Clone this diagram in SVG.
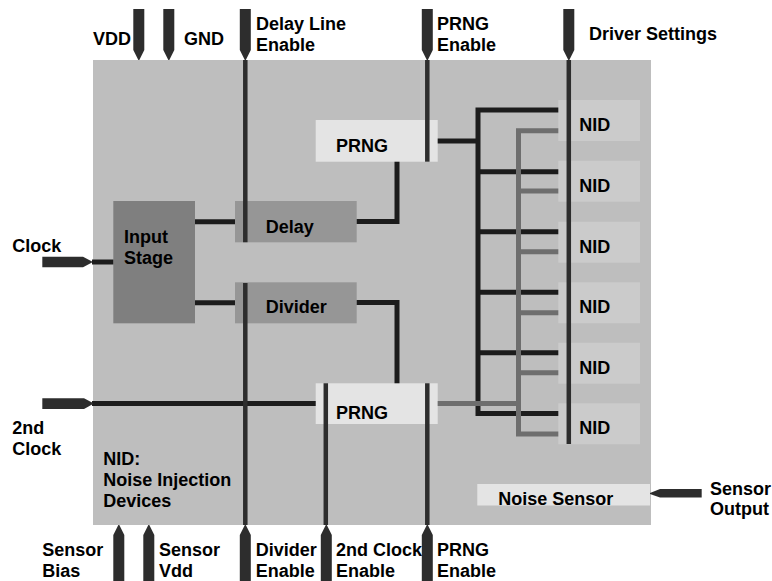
<svg xmlns="http://www.w3.org/2000/svg" width="772" height="581" viewBox="0 0 772 581">
<style>
text{font-family:"Liberation Sans",Arial,Helvetica,sans-serif;font-weight:bold;font-size:18px;fill:#000}
.chip{fill:#bebebe}
.input{fill:#7f7f7f}
.mid{fill:#969696}
.light{fill:#e4e4e4}
.nid{fill:#cbcbcb}
.pin{fill:#2d2d2d}
.blk{stroke:#1c1c1c;stroke-width:5;fill:none}
.gry{stroke:#6e6e6e;stroke-width:5;fill:none}
.en{stroke:#2d2d2d;stroke-width:4.5;fill:none}
</style>
<rect width="772" height="581" fill="#fff"/>
<g id="chip"><rect class="chip" x="93" y="60" width="558" height="465"/></g>
<g id="input-stage"><rect class="input" x="113.3" y="201" width="81.7" height="122.3"/><text x="124" y="243">Input</text><text x="124" y="263.5">Stage</text></g>
<g id="delay"><rect class="mid" x="235" y="201" width="121.7" height="41.3"/><text x="265.7" y="232.7">Delay</text></g>
<g id="divider"><rect class="mid" x="235" y="282.3" width="121.7" height="41"/><text x="265.7" y="312.7">Divider</text></g>
<g id="prng-top"><rect class="light" x="315.7" y="120" width="122" height="41.7"/><text x="336" y="151.7">PRNG</text></g>
<g id="prng-bottom"><rect class="light" x="315.7" y="383.3" width="122" height="40.7"/><text x="336" y="419.3">PRNG</text></g>
<g id="nid1"><rect class="nid" x="558.3" y="100" width="81.7" height="41"/><text x="579.3" y="131">NID</text></g>
<g id="nid2"><rect class="nid" x="558.3" y="160.7" width="81.7" height="41"/><text x="579.3" y="191.7">NID</text></g>
<g id="nid3"><rect class="nid" x="558.3" y="221.7" width="81.7" height="41"/><text x="579.3" y="252.7">NID</text></g>
<g id="nid4"><rect class="nid" x="558.3" y="282.3" width="81.7" height="41"/><text x="579.3" y="313.3">NID</text></g>
<g id="nid5"><rect class="nid" x="558.3" y="342.7" width="81.7" height="41"/><text x="579.3" y="373.7">NID</text></g>
<g id="nid6"><rect class="nid" x="558.3" y="403.3" width="81.7" height="41"/><text x="579.3" y="434.3">NID</text></g>
<g id="noise-sensor"><rect class="light" x="477.3" y="484" width="172.7" height="21.5"/><text x="498.3" y="505">Noise Sensor</text></g>
<g id="legend"><text x="103.3" y="465">NID:</text><text x="103.3" y="486">Noise Injection</text><text x="103.3" y="506.7">Devices</text></g>
<g id="connectors">
<path class="blk" d="M92 262H113.3"/>
<path class="blk" d="M92 403.5H315.7"/>
<path class="blk" d="M195 221.7H235"/>
<path class="blk" d="M195 302.7H235"/>
<path class="blk" d="M356.7 221.5H397V161.7"/>
<path class="blk" d="M356.7 302.5H397V383.3"/>
<path class="blk" d="M437.7 141H478"/>
<path class="blk" d="M478 107.5V416M478 110H558.3M478 171.7H558.3M478 231.7H558.3M478 292.3H558.3M478 352.7H558.3M478 413.5H558.3"/>
<path class="gry" d="M437.7 403.5H518.5"/>
<path class="gry" d="M558.3 130.7H518.5V434H558.3M518.5 191H558.3M518.5 251.7H558.3M518.5 312.7H558.3M518.5 372.7H558.3"/>
<path class="en" d="M245.3 60V242.3"/>
<path class="en" d="M245.3 283V525"/>
<path class="en" d="M427.3 60V161.7"/>
<path class="en" d="M325.8 383.3V525"/>
<path class="en" d="M427.3 383.3V525"/>
<path class="en" d="M568.8 60V444"/>
</g>
<g id="pin-vdd"><path class="pin" d="M133.3 9H144.3V50L139.3 60H138.3L133.3 50Z"/><text x="93" y="45">VDD</text></g>
<g id="pin-gnd"><path class="pin" d="M163.3 9H174.3V50L169.3 60H168.3L163.3 50Z"/><text x="184" y="45">GND</text></g>
<g id="pin-delay-enable"><path class="pin" d="M239.8 9H250.8V50L245.8 60H244.8L239.8 50Z"/><text x="256" y="29.5">Delay Line</text><text x="256" y="51">Enable</text></g>
<g id="pin-prng-enable-top"><path class="pin" d="M421.8 9H432.8V50L427.8 60H426.8L421.8 50Z"/><text x="437" y="29.5">PRNG</text><text x="437" y="51">Enable</text></g>
<g id="pin-driver"><path class="pin" d="M563.3 9H574.3V50L569.3 60H568.3L563.3 50Z"/><text x="589" y="40">Driver Settings</text></g>
<g id="pin-clock"><path class="pin" d="M42.3 256.7H83L92 261.5V262.5L83 267.3H42.3Z"/><text x="12.3" y="251.7">Clock</text></g>
<g id="pin-2nd-clock"><path class="pin" d="M42.3 398.3H84L93 403V404L84 409H42.3Z"/><text x="12.3" y="434.3">2nd</text><text x="12.3" y="455">Clock</text></g>
<g id="pin-sensor-output"><path class="pin" d="M701.7 489V497.5H660L650 494V493L660 489Z"/><text x="710" y="495">Sensor</text><text x="710" y="515">Output</text></g>
<g id="pin-sensor-bias"><path class="pin" d="M113.3 581V535L118.3 525H119.3L124.3 535V581Z"/><text x="42.3" y="555.7">Sensor</text><text x="42.3" y="577">Bias</text></g>
<g id="pin-sensor-vdd"><path class="pin" d="M143.3 581V535L148.3 525H149.3L154.3 535V581Z"/><text x="159" y="555.7">Sensor</text><text x="159" y="577">Vdd</text></g>
<g id="pin-divider-enable"><path class="pin" d="M239.8 581V535L244.8 525H245.8L250.8 535V581Z"/><text x="255.7" y="555.7">Divider</text><text x="255.7" y="577">Enable</text></g>
<g id="pin-2nd-clock-enable"><path class="pin" d="M320.8 581V535L325.8 525H326.8L331.8 535V581Z"/><text x="336" y="555.7">2nd Clock</text><text x="336" y="577">Enable</text></g>
<g id="pin-prng-enable-bottom"><path class="pin" d="M421.8 581V535L426.8 525H427.8L432.8 535V581Z"/><text x="437" y="555.7">PRNG</text><text x="437" y="577">Enable</text></g>
</svg>
